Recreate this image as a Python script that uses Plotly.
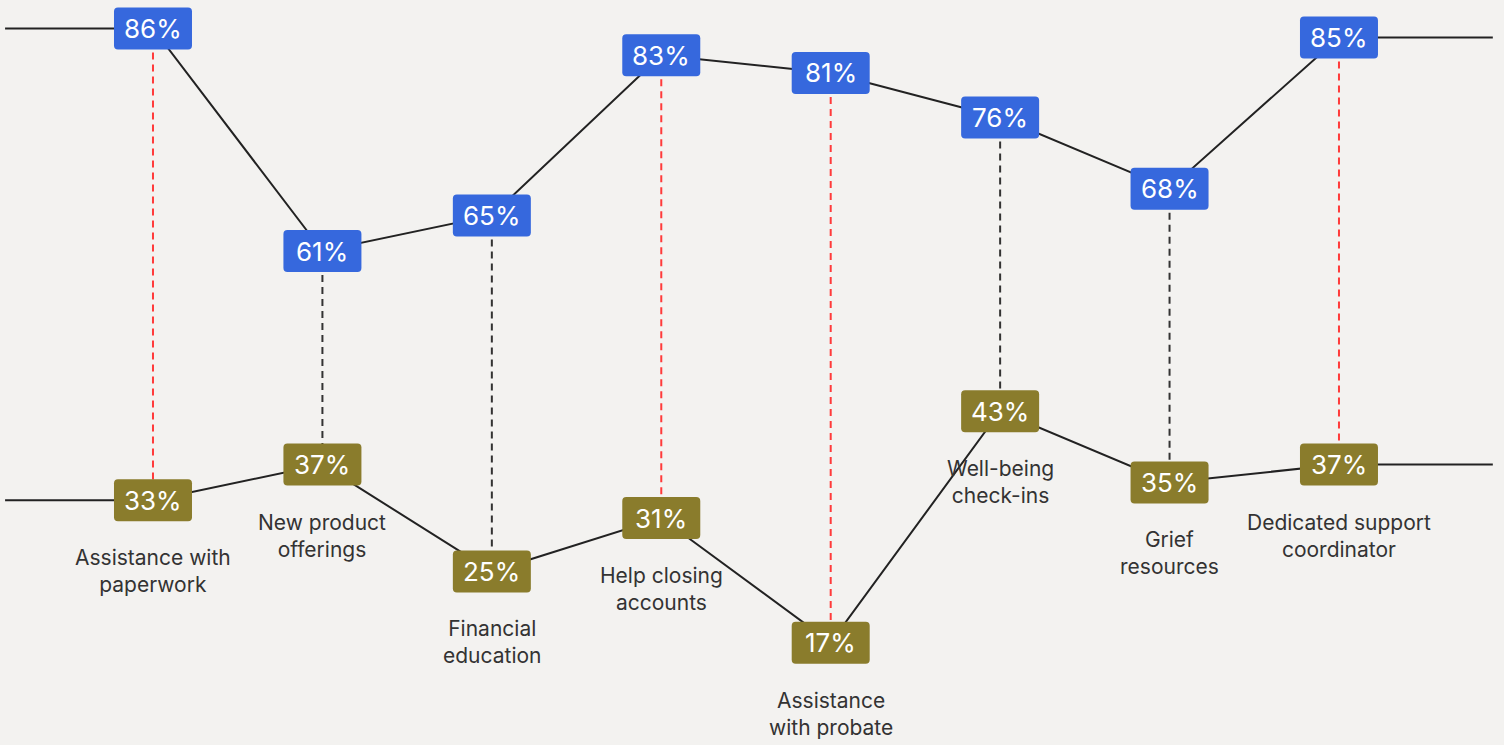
import plotly.graph_objects as go

categories = [
    "Assistance with<br>paperwork",
    "New product<br>offerings",
    "Financial<br>education",
    "Help closing<br>accounts",
    "Assistance<br>with probate",
    "Well-being<br>check-ins",
    "Grief<br>resources",
    "Dedicated support<br>coordinator",
]
top_values = [86, 61, 65, 83, 81, 76, 68, 85]
bottom_values = [33, 37, 25, 31, 17, 43, 35, 37]
gap_threshold = 45

BLUE = "#3668DD"
OLIVE = "#8A7C2C"
BG = "#F3F2F0"
LINE = "#222222"

xs = list(range(len(categories)))
x_range = [-0.903, 7.974]
y_range = [5.5, 89.2]
ext_left = x_range[0] + 0.03
ext_right = x_range[1] - 0.066

fig = go.Figure()

# dashed connectors
for i, (t, b) in enumerate(zip(top_values, bottom_values)):
    col = "#FF3B3B" if (t - b) > gap_threshold else "#333333"
    fig.add_trace(go.Scatter(x=[i, i], y=[t, b], mode="lines",
                             line=dict(color=col, width=2, dash="7px,5px"),
                             hoverinfo="skip", showlegend=False))

# series lines with edge extensions
for vals in (top_values, bottom_values):
    fig.add_trace(go.Scatter(x=[ext_left] + xs + [ext_right],
                             y=[vals[0]] + vals + [vals[-1]],
                             mode="lines", line=dict(color=LINE, width=2),
                             hoverinfo="skip", showlegend=False))

w, h, r = 39, 21, 4
path = (f"M {-w+r},{-h} L {w-r},{-h} Q {w},{-h} {w},{-h+r} L {w},{h-r} "
        f"Q {w},{h} {w-r},{h} L {-w+r},{h} Q {-w},{h} {-w},{h-r} "
        f"L {-w},{-h+r} Q {-w},{-h} {-w+r},{-h} Z")

shapes = []
annotations = []
for vals, col in ((top_values, BLUE), (bottom_values, OLIVE)):
    for i, v in enumerate(vals):
        shapes.append(dict(type="path", xref="x", yref="y", xsizemode="pixel",
                           ysizemode="pixel", xanchor=i, yanchor=v, path=path,
                           fillcolor=col, line=dict(width=0), layer="above"))
        annotations.append(dict(x=i, y=v, xref="x", yref="y", text=f"{v}%",
                                showarrow=False,
                                font=dict(family="Inter", size=26, color="white")))

for i, (cat, b) in enumerate(zip(categories, bottom_values)):
    annotations.append(dict(x=i, y=b, xref="x", yref="y", text=cat, showarrow=False,
                            yanchor="top", yshift=-43,
                            font=dict(family="Inter", size=21, color="#333333")))

fig.update_layout(
    width=1504, height=745,
    margin=dict(l=0, r=0, t=0, b=0),
    paper_bgcolor=BG, plot_bgcolor=BG,
    xaxis=dict(range=x_range, visible=False, fixedrange=True),
    yaxis=dict(range=y_range, visible=False, fixedrange=True),
    shapes=shapes, annotations=annotations,
    showlegend=False,
)

fig.write_html("out.html")
